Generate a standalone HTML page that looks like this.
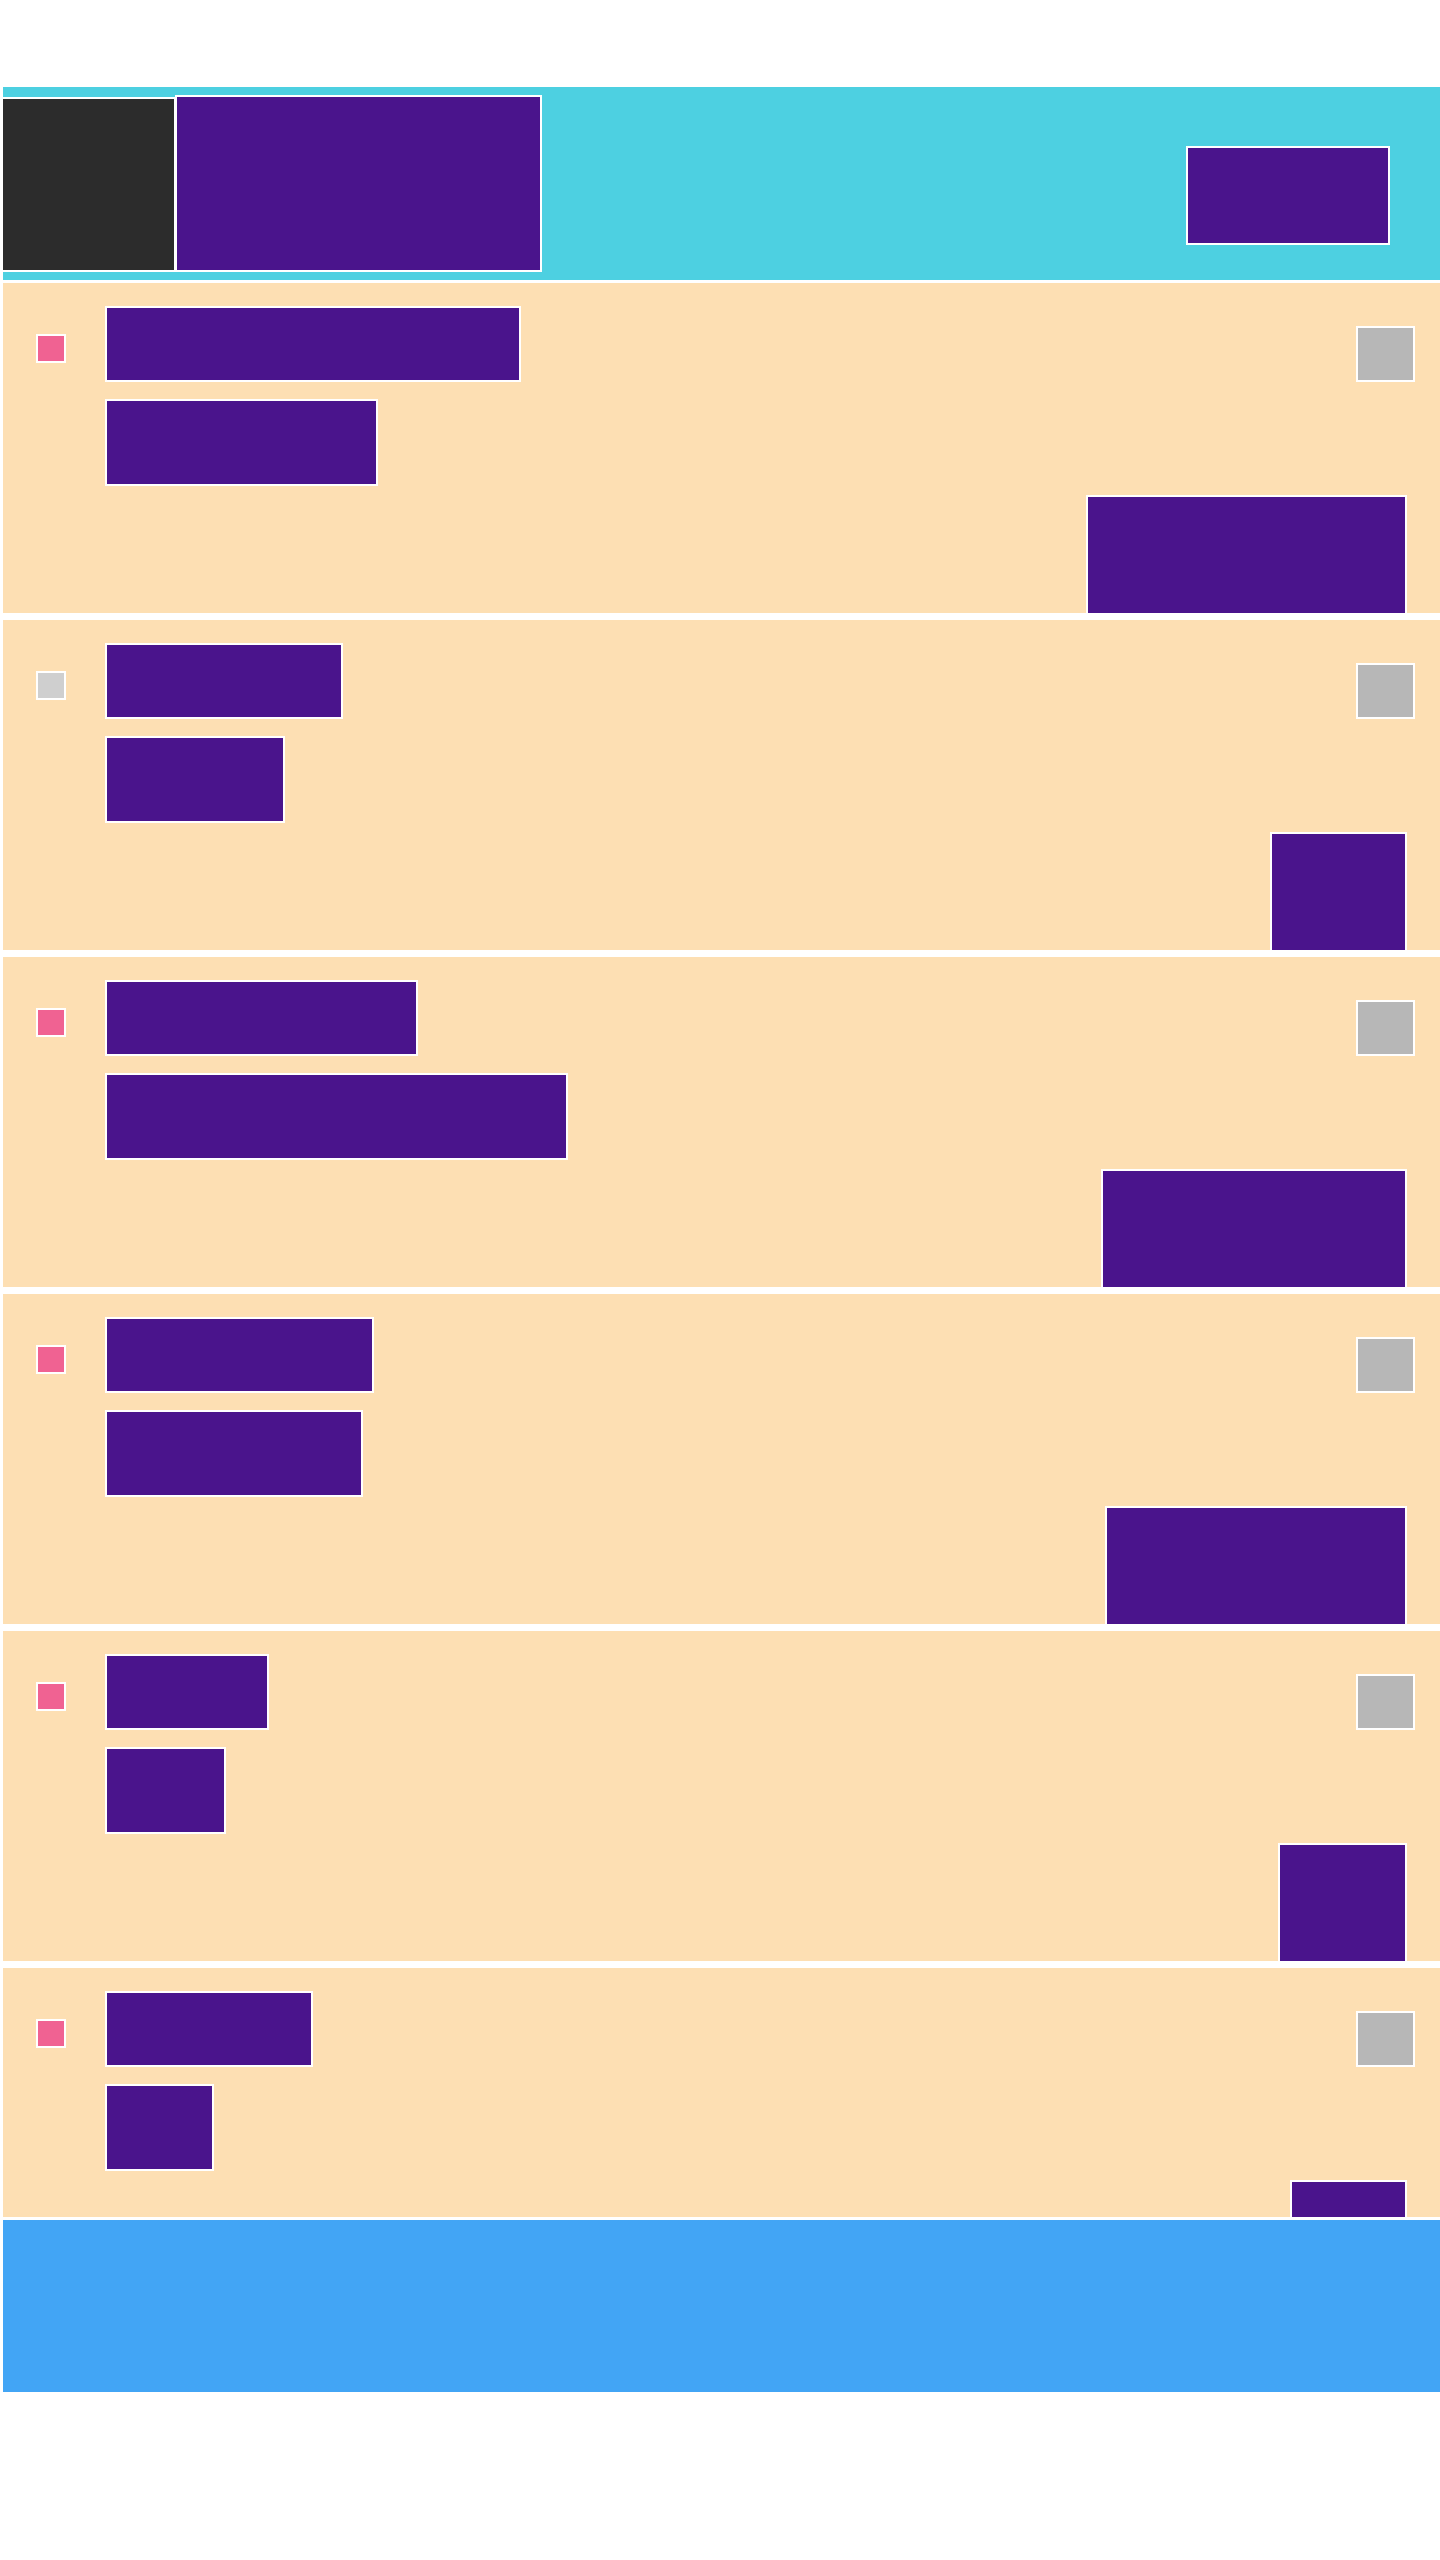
<!DOCTYPE html>
<html><head><meta charset="utf-8"><style>
body{margin:0;width:1440px;height:2560px;background:#fff;position:relative;overflow:hidden;font-family:"Liberation Sans",sans-serif}
div{position:absolute;box-sizing:border-box}
.hdr{left:3px;top:87px;width:1437px;height:193px;background:#4dd0e1}
.card{left:3px;width:1437px;height:330px;background:#fddfb3;overflow:hidden}
.p{background:#4a148c;border:2px solid #fff}
.chk{left:33px;top:51px;width:30px;height:29px;border:2px solid #fff;background:#f06292}
.g{left:1353px;top:43px;width:59px;height:56px;border:2px solid #fff;background:#b7b7b7}
.ft{left:3px;top:2220px;width:1437px;height:172px;background:#42a5f5}
</style></head><body>
<div class="hdr">
 <div style="left:0;top:10px;width:173px;height:175px;background:#2c2c2c;border:2px solid #fff;border-left:none"></div>
 <div class="p" style="left:172px;top:8px;width:367px;height:177px"></div>
 <div class="p" style="left:1183px;top:59px;width:204px;height:99px"></div>
</div>
<div id="list"></div>
<div class="ft"></div>
<script>
const titles=[416,238,313,269,164,208];
const subs=[273,180,463,258,121,109];
const brs=[321,137,306,302,129,117];
const checked=[true,false,true,true,true,true];
const list=document.getElementById('list');
for(let i=0;i<6;i++){
 const c=document.createElement('div');
 c.className='card';
 
 
 c.style.top=(283+i*337)+'px';
 if(i===5)c.style.height='249px';
 const k=document.createElement('div');k.className='chk';
 
 
 if(!checked[i])k.style.background='#cfcfcf';
 c.appendChild(k);
 const t=document.createElement('div');t.className='p';
 
 
 t.style.cssText='left:102px;top:23px;height:76px;width:'+titles[i]+'px';
 c.appendChild(t);
 const s=document.createElement('div');s.className='p';
 
 
 s.style.cssText='left:102px;top:116px;height:87px;width:'+subs[i]+'px';
 c.appendChild(s);
 const g=document.createElement('div');g.className='g';
 
 
 c.appendChild(g);
 const b=document.createElement('div');b.className='p';
 
 
 b.style.cssText='top:212px;height:130px;left:'+(1404-brs[i])+'px;width:'+brs[i]+'px';
 c.appendChild(b);
 list.appendChild(c);
}
</script>
</body></html>
